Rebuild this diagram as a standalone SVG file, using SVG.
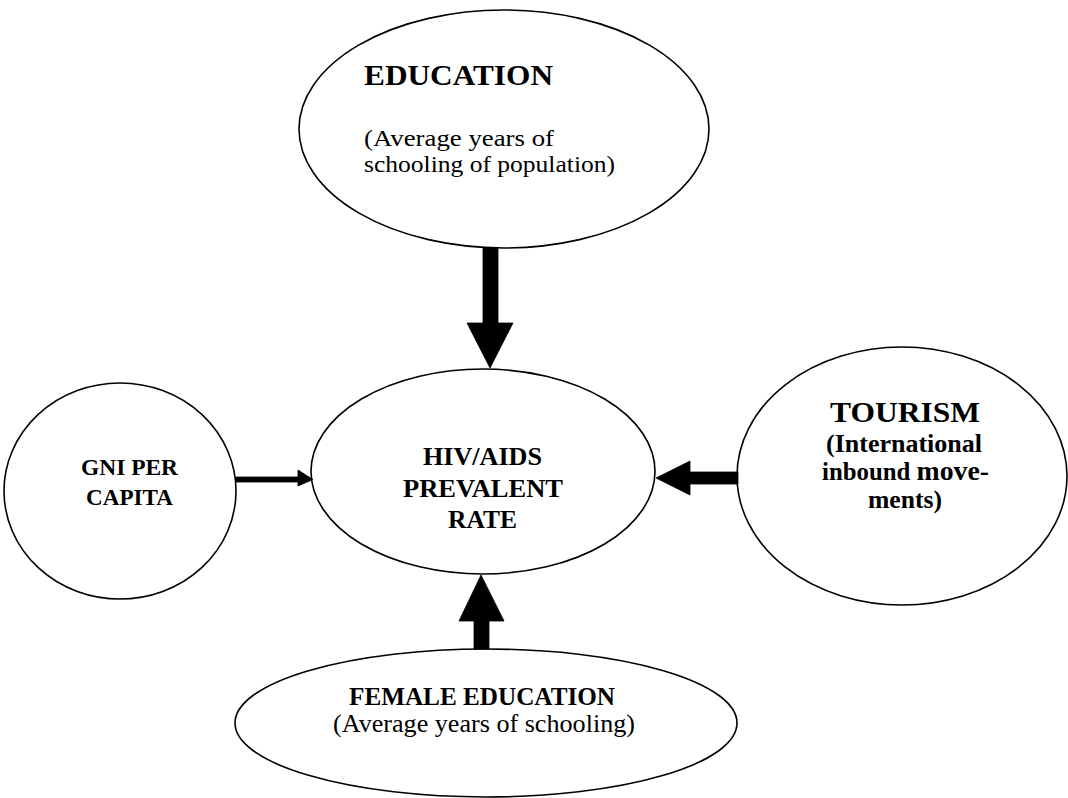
<svg xmlns="http://www.w3.org/2000/svg" width="1068" height="798" viewBox="0 0 1068 798">
  <style>
    .node { fill: #ffffff; stroke: #000000; stroke-width: 1.6; }
    .arrow { fill: #000000; stroke: #000000; stroke-width: 0.8; stroke-linejoin: miter; }
    text { font-family: "Liberation Serif", "Times New Roman", serif; fill: #000000; }
    .b { font-weight: bold; }
  </style>
  <rect x="0" y="0" width="1068" height="798" fill="#ffffff"/>

  <!-- Education -->
  <g id="education">
    <ellipse class="node" cx="504" cy="129" rx="205" ry="119"/>
    <text class="b" x="364" y="85" font-size="30" textLength="189" lengthAdjust="spacingAndGlyphs">EDUCATION</text>
    <text x="364" y="146" font-size="24" textLength="190" lengthAdjust="spacingAndGlyphs">(Average years of</text>
    <text x="364" y="172" font-size="24" textLength="251" lengthAdjust="spacingAndGlyphs">schooling of population)</text>
  </g>

  <!-- HIV/AIDS prevalence (centre) -->
  <g id="hiv-aids">
    <ellipse class="node" cx="483" cy="471.5" rx="172" ry="102.5"/>
    <text class="b" x="423" y="465" font-size="25" textLength="119" lengthAdjust="spacingAndGlyphs">HIV/AIDS</text>
    <text class="b" x="403" y="497" font-size="25" textLength="160" lengthAdjust="spacingAndGlyphs">PREVALENT</text>
    <text class="b" x="448" y="528" font-size="25" textLength="69" lengthAdjust="spacingAndGlyphs">RATE</text>
  </g>

  <!-- GNI per capita -->
  <g id="gni">
    <ellipse class="node" cx="120" cy="491" rx="116" ry="108"/>
    <text class="b" x="81" y="475" font-size="24" textLength="97" lengthAdjust="spacingAndGlyphs">GNI PER</text>
    <text class="b" x="86" y="505" font-size="24" textLength="87" lengthAdjust="spacingAndGlyphs">CAPITA</text>
  </g>

  <!-- Tourism -->
  <g id="tourism">
    <ellipse class="node" cx="902" cy="476" rx="165" ry="129"/>
    <text class="b" x="830" y="422" font-size="29" textLength="150" lengthAdjust="spacingAndGlyphs">TOURISM</text>
    <text class="b" x="826" y="452" font-size="25" textLength="156" lengthAdjust="spacingAndGlyphs">(International</text>
    <text class="b" x="822" y="480" font-size="25" textLength="167" lengthAdjust="spacingAndGlyphs">inbound <tspan font-size="28">move-</tspan></text>
    <text class="b" x="868" y="508" font-size="26" textLength="74" lengthAdjust="spacingAndGlyphs">ments)</text>
  </g>

  <!-- Female education -->
  <g id="female-education">
    <ellipse class="node" cx="486" cy="723" rx="251" ry="74"/>
    <text class="b" x="349" y="705" font-size="26" textLength="266" lengthAdjust="spacingAndGlyphs">FEMALE EDUCATION</text>
    <text x="333" y="732" font-size="25" textLength="302" lengthAdjust="spacingAndGlyphs">(Average years of schooling)</text>
  </g>

  <!-- Connectors: block arrows pointing into the centre node -->
  <g id="connectors">
    <!-- education -> hiv/aids -->
    <polygon class="arrow" points="483,248 498,248 498,323 513,323 490,368 467,323 483,323"/>
    <!-- gni -> hiv/aids -->
    <polygon class="arrow" points="236,477 298,477 298,470 313,479.5 298,486 298,482 236,482"/>
    <!-- tourism -> hiv/aids -->
    <polygon class="arrow" points="738,472 690,472 690,461 656,478 690,495 690,484 738,484"/>
    <!-- female education -> hiv/aids -->
    <polygon class="arrow" points="474,649 474,621 459,621 481,575 504,621 489,621 489,649"/>
  </g>
</svg>
